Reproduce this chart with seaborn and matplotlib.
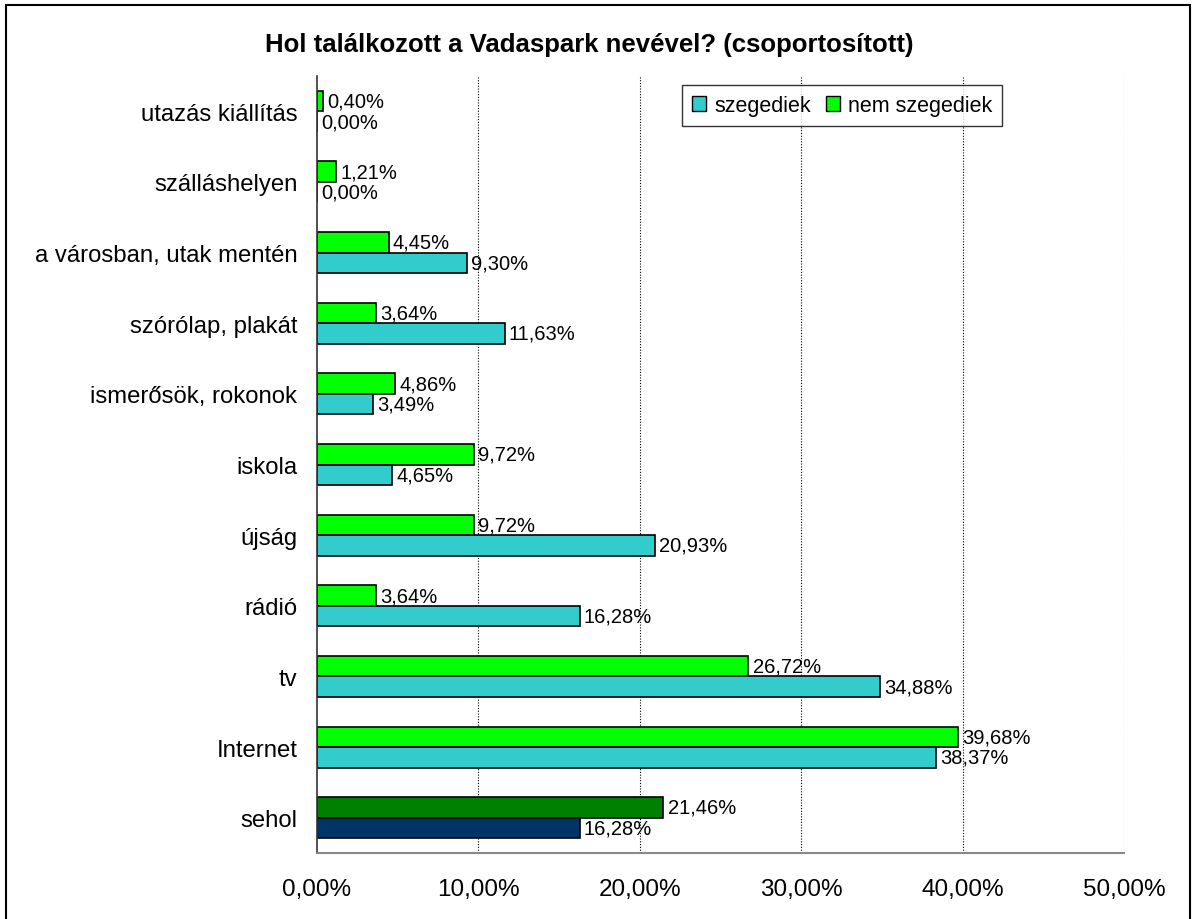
import matplotlib
matplotlib.use("Agg")
import matplotlib.pyplot as plt
import matplotlib.patches as mpatches
import matplotlib.ticker as mtick
import numpy as np
import pandas as pd
import seaborn as sns

# Data (percent)
categories = ['utazás kiállítás', 'szálláshelyen', 'a városban, utak mentén',
              'szórólap, plakát', 'ismerősök, rokonok', 'iskola', 'újság',
              'rádió', 'tv', 'Internet', 'sehol']
szegediek = [0.00, 0.00, 9.30, 11.63, 3.49, 4.65, 20.93, 16.28, 34.88, 38.37, 16.28]
nem_szegediek = [0.40, 1.21, 4.45, 3.64, 4.86, 9.72, 9.72, 3.64, 26.72, 39.68, 21.46]
series_names = ['szegediek', 'nem szegediek']
x_ticks = [0, 10, 20, 30, 40, 50]

sns.set_style('white')
plt.rcParams['font.family'] = ['Liberation Sans', 'DejaVu Sans']
plt.rcParams['text.color'] = 'black'
plt.rcParams['xtick.color'] = 'black'
plt.rcParams['ytick.color'] = 'black'

df = pd.DataFrame({
    'kategoria': categories * 2,
    'ertek': nem_szegediek + szegediek,
    'csoport': ['nem szegediek'] * len(categories) + ['szegediek'] * len(categories),
})

fig = plt.figure(figsize=(11.96, 9.2), dpi=100)
ax = fig.add_axes([0.265, 0.0717, 0.675, 0.8446])

col_teal = '#33CCCC'
col_green = '#00FF00'
sns.barplot(data=df, y='kategoria', x='ertek', hue='csoport',
            hue_order=['nem szegediek', 'szegediek'], order=categories,
            palette={'nem szegediek': col_green, 'szegediek': col_teal},
            orient='h', width=0.58, edgecolor='black', linewidth=1.2,
            saturation=1, legend=False, ax=ax)

# sehol bars are highlighted with darker colours
for cont, dark in zip(ax.containers, ['#008000', '#003366']):
    cont.patches[-1].set_facecolor(dark)
    labels = [('%.2f%%' % v).replace('.', ',') for v in cont.datavalues]
    ax.bar_label(cont, labels=labels, padding=3, fontsize=14.5, color='black')

ax.set_xlim(0, 50)
ax.set_ylim(len(categories) - 0.5, -0.5)
ax.set_xticks(x_ticks)
ax.xaxis.set_major_formatter(mtick.FuncFormatter(lambda v, p: ('%.2f%%' % v).replace('.', ',')))
ax.tick_params(axis='x', labelsize=17.5, length=7, width=1, color='#555555', pad=11, direction='out')
ax.set_yticks(range(len(categories)))
ax.set_yticks(np.arange(-0.5, len(categories), 1), minor=True)
ax.tick_params(axis='y', which='major', length=0, labelsize=17.2, pad=14)
ax.tick_params(axis='y', which='minor', length=8, width=1, color='black', direction='out')
ax.set_xlabel('')
ax.set_ylabel('')

for xv in x_ticks[1:]:
    ax.axvline(xv, color='black', linestyle=(0, (1, 1.5)), linewidth=0.8, zorder=0)

for s in ['top', 'right']:
    ax.spines[s].set_visible(False)
ax.spines['left'].set_color('#333333')
ax.spines['bottom'].set_color('#888888')
ax.spines['left'].set_linewidth(1.2)
ax.spines['bottom'].set_linewidth(1.5)

handles = [mpatches.Patch(facecolor=col_teal, edgecolor='black'),
           mpatches.Patch(facecolor=col_green, edgecolor='black')]
leg = ax.legend(handles, series_names, loc='upper left', bbox_to_anchor=(0.452, 0.988),
                borderaxespad=0, ncol=2, fontsize=15.5, frameon=True, fancybox=False,
                handlelength=0.65, handleheight=0.65, handletextpad=0.4,
                columnspacing=0.7, borderpad=0.45)
leg.get_frame().set_edgecolor('black')
leg.get_frame().set_linewidth(1)

fig.text(0.493, 0.951, 'Hol találkozott a Vadaspark nevével? (csoportosított)',
         ha='center', va='center', fontsize=18.5, fontweight='bold')

# outer chart border
fig.patches.append(mpatches.Rectangle((0.005, -0.01), 0.99, 1.003, transform=fig.transFigure,
                                      fill=False, edgecolor='black', linewidth=1.5))

fig.savefig('out.png', dpi=100)
